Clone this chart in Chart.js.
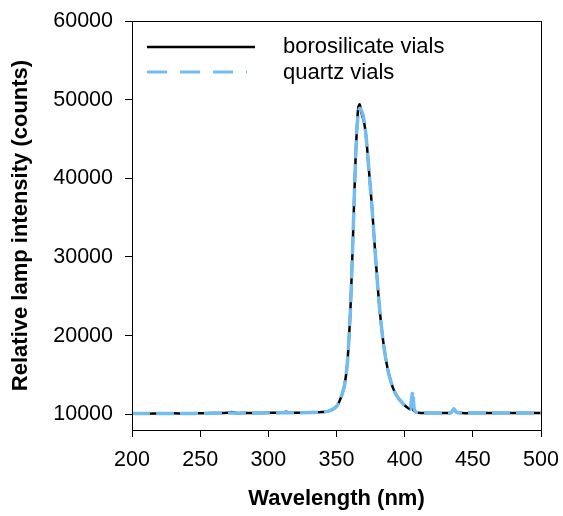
<!DOCTYPE html>
<html>
<head>
<meta charset="utf-8">
<script src="https://cdn.jsdelivr.net/npm/chart.js@4/dist/chart.umd.min.js"></script>
<style>
  html, body { margin: 0; padding: 0; background: #fff; }
  #wrap { width: 563px; height: 516px; }
</style>
</head>
<body>
<div id="wrap"><canvas id="c" width="563" height="516"></canvas></div>
<script>
const wavelengths = [200, 210, 220, 230, 240, 250, 260, 270, 273, 276, 280, 290, 300, 310, 313, 316, 320, 330, 340, 344,
  347, 350, 352, 354, 356, 358, 360, 361, 362, 363, 364, 365, 366, 367, 368, 369, 370, 371, 372, 374,
  376, 378, 380, 382, 384, 386, 388, 390, 392, 394, 396, 398, 400, 402, 404, 405, 406, 407, 408, 410,
  415, 420, 430, 434, 436, 438, 442, 450, 460, 470, 480, 490, 500]

const borosilicate = [10100, 10080, 10100, 10120, 10100, 10120, 10150, 10180, 10300, 10150, 10150, 10150, 10180, 10200, 10320, 10200, 10200, 10220, 10280, 10400,
  10600, 11000, 11600, 12500, 13800, 16600, 22500, 27000, 32000, 37500, 42500, 46500, 49000, 49400, 48600, 47900, 47300, 46300, 44800, 40600,
  36400, 31500, 26800, 22700, 19600, 17200, 15400, 14100, 13100, 12400, 11900, 11500, 11150, 10850, 10650, 10900, 10600, 10400, 10300, 10200,
  10150, 10150, 10150, 10200, 10600, 10250, 10150, 10150, 10150, 10150, 10150, 10150, 10150]

const quartz = [10100, 10100, 10100, 10100, 10100, 10120, 10130, 10150, 10150, 10150, 10150, 10150, 10170, 10180, 10200, 10180, 10200, 10220, 10280, 10400,
  10600, 11000, 11600, 12500, 13800, 16600, 22500, 27000, 32000, 37500, 42500, 46300, 48300, 48900, 48700, 48300, 47600, 46400, 44800, 40600,
  36400, 31500, 26800, 22700, 19600, 17200, 15400, 14100, 13100, 12400, 11900, 11500, 11150, 10850, 10650, 11800, 12900, 10600, 10350, 10200,
  10150, 10150, 10150, 10200, 10700, 10250, 10150, 10150, 10150, 10150, 10150, 10150, 10150]

const yTicks = [10000, 20000, 30000, 40000, 50000, 60000]
const xTicks = [200, 250, 300, 350, 400, 450, 500]

const FONT = '"Liberation Sans", Arial, Helvetica, sans-serif'
const BLUE = '#72bcf0'

function toPoints(xs, ys) {
  return xs.map((x, i) => ({ x, y: ys[i] }))
}

// box around the plot area plus the legend inside it
const frameAndLegend = {
  id: 'frameAndLegend',
  afterDraw(chart) {
    const { ctx, chartArea } = chart
    ctx.save()
    ctx.strokeStyle = '#000'
    ctx.lineWidth = 1
    ctx.strokeRect(chartArea.left + 0.5, chartArea.top + 0.5, chartArea.right - chartArea.left, chartArea.bottom - chartArea.top)

    ctx.lineWidth = 2.5
    ctx.beginPath()
    ctx.moveTo(147, 47)
    ctx.lineTo(255, 47)
    ctx.stroke()

    ctx.strokeStyle = BLUE
    ctx.lineWidth = 3
    ctx.setLineDash([20, 13])
    ctx.beginPath()
    ctx.moveTo(147, 72)
    ctx.lineTo(247, 72)
    ctx.stroke()
    ctx.setLineDash([])

    ctx.fillStyle = '#000'
    ctx.font = '22px ' + FONT
    ctx.textBaseline = 'middle'
    ctx.fillText('borosilicate vials', 283, 47)
    ctx.fillText('quartz vials', 283, 73)
    ctx.restore()
  }
}

new Chart(document.getElementById('c'), {
  type: 'line',
  data: {
    datasets: [
      {
        label: 'borosilicate vials',
        data: toPoints(wavelengths, borosilicate),
        borderColor: '#000',
        borderWidth: 2.5,
        pointRadius: 0,
        tension: 0.3,
        order: 1
      },
      {
        label: 'quartz vials',
        data: toPoints(wavelengths, quartz),
        borderColor: BLUE,
        borderWidth: 3.5,
        borderDash: [18, 6],
        pointRadius: 0,
        tension: 0.3,
        order: 0
      }
    ]
  },
  options: {
    responsive: false,
    animation: false,
    layout: { padding: { left: 4, right: 22, top: 21, bottom: 0 } },
    plugins: { legend: { display: false }, tooltip: { enabled: false } },
    scales: {
      x: {
        type: 'linear',
        min: 200,
        max: 500,
        afterBuildTicks: axis => { axis.ticks = xTicks.map(v => ({ value: v })) },
        afterFit: axis => {
          axis.height = 86
          axis.paddingLeft = 0
          axis.paddingRight = 0
        },
        grid: { drawOnChartArea: false, tickLength: 7, color: '#000', tickColor: '#000' },
        border: { color: '#000', width: 1 },
        ticks: { color: '#000', font: { family: FONT, size: 21.5 }, padding: 10, maxRotation: 0, callback: v => String(v) },
        title: {
          display: true,
          text: 'Wavelength (nm)',
          color: '#000',
          font: { family: FONT, size: 22, weight: 'bold' },
          padding: { top: 0, bottom: 4 }
        }
      },
      y: {
        min: 8000,
        max: 60000,
        afterBuildTicks: axis => { axis.ticks = yTicks.map(v => ({ value: v })) },
        afterFit: axis => {
          axis.width = 128
          axis.paddingTop = 0
          axis.paddingBottom = 0
        },
        grid: { drawOnChartArea: false, tickLength: 7, color: '#000', tickColor: '#000' },
        border: { color: '#000', width: 1 },
        ticks: { color: '#000', font: { family: FONT, size: 21.5 }, padding: 12, callback: v => String(v) },
        title: {
          display: true,
          text: 'Relative lamp intensity (counts)',
          color: '#000',
          font: { family: FONT, size: 22, weight: 'bold' },
          padding: { top: 4, bottom: 4 }
        }
      }
    }
  },
  plugins: [frameAndLegend]
})
</script>
</body>
</html>
